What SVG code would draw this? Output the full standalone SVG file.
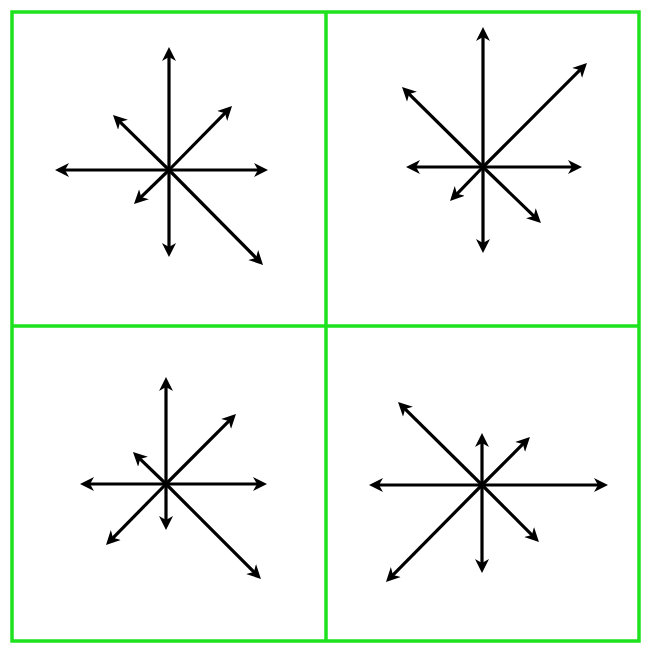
<svg xmlns="http://www.w3.org/2000/svg" width="650" height="656" viewBox="0 0 650 656">
  <style>
    .grid { fill: none; stroke: #1ee21e; stroke-width: 3.5; }
    .arr { stroke: #000; stroke-width: 3.2; fill: none; marker-end: url(#head); }
  </style>
  <defs>
    <marker id="head" markerUnits="userSpaceOnUse" viewBox="0 -8 16 16" markerWidth="16" markerHeight="16" refX="6" refY="0" orient="auto">
      <path d="M0,-7 L14,0 L0,7 L4,0 z" fill="#000"/>
    </marker>
  </defs>
  <rect width="650" height="656" fill="#fff"/>
  <g id="grid">
    <rect class="grid" x="12" y="12" width="627" height="629"/>
    <line class="grid" x1="326" y1="12" x2="326" y2="641"/>
    <line class="grid" x1="12" y1="326" x2="639" y2="326"/>
  </g>
  <g id="panel-top-left">
    <line class="arr" x1="169" y1="170" x2="169" y2="55"/>
    <line class="arr" x1="169" y1="170" x2="260" y2="170"/>
    <line class="arr" x1="169" y1="170" x2="63" y2="170"/>
    <line class="arr" x1="169" y1="170" x2="169" y2="249"/>
    <line class="arr" x1="169" y1="170" x2="226.4" y2="111.7"/>
    <line class="arr" x1="169" y1="170" x2="118.7" y2="120.6"/>
    <line class="arr" x1="169" y1="170" x2="139.7" y2="198.4"/>
    <line class="arr" x1="169" y1="170" x2="257.4" y2="259.3"/>
  </g>
  <g id="panel-top-right">
    <line class="arr" x1="483" y1="167" x2="483" y2="35"/>
    <line class="arr" x1="483" y1="167" x2="574" y2="167"/>
    <line class="arr" x1="483" y1="167" x2="414" y2="167"/>
    <line class="arr" x1="483" y1="167" x2="483" y2="245"/>
    <line class="arr" x1="483" y1="167" x2="581.3" y2="68.7"/>
    <line class="arr" x1="483" y1="167" x2="407.7" y2="92.6"/>
    <line class="arr" x1="483" y1="167" x2="455.6" y2="195.3"/>
    <line class="arr" x1="483" y1="167" x2="535.2" y2="217.4"/>
  </g>
  <g id="panel-bottom-left">
    <line class="arr" x1="166" y1="484" x2="166" y2="385"/>
    <line class="arr" x1="166" y1="484" x2="259" y2="484"/>
    <line class="arr" x1="166" y1="484" x2="88" y2="484"/>
    <line class="arr" x1="166" y1="484" x2="166" y2="522"/>
    <line class="arr" x1="166" y1="484" x2="230.3" y2="419.7"/>
    <line class="arr" x1="166" y1="484" x2="138.7" y2="457.6"/>
    <line class="arr" x1="166" y1="484" x2="111.6" y2="539.3"/>
    <line class="arr" x1="166" y1="484" x2="255.3" y2="573.3"/>
  </g>
  <g id="panel-bottom-right">
    <line class="arr" x1="482" y1="485" x2="482" y2="441"/>
    <line class="arr" x1="482" y1="485" x2="600" y2="485"/>
    <line class="arr" x1="482" y1="485" x2="377" y2="485"/>
    <line class="arr" x1="482" y1="485" x2="482" y2="565"/>
    <line class="arr" x1="482" y1="485" x2="524.3" y2="442.7"/>
    <line class="arr" x1="482" y1="485" x2="403.7" y2="407.6"/>
    <line class="arr" x1="482" y1="485" x2="391.6" y2="576.3"/>
    <line class="arr" x1="482" y1="485" x2="533.3" y2="536.3"/>
  </g>
</svg>
